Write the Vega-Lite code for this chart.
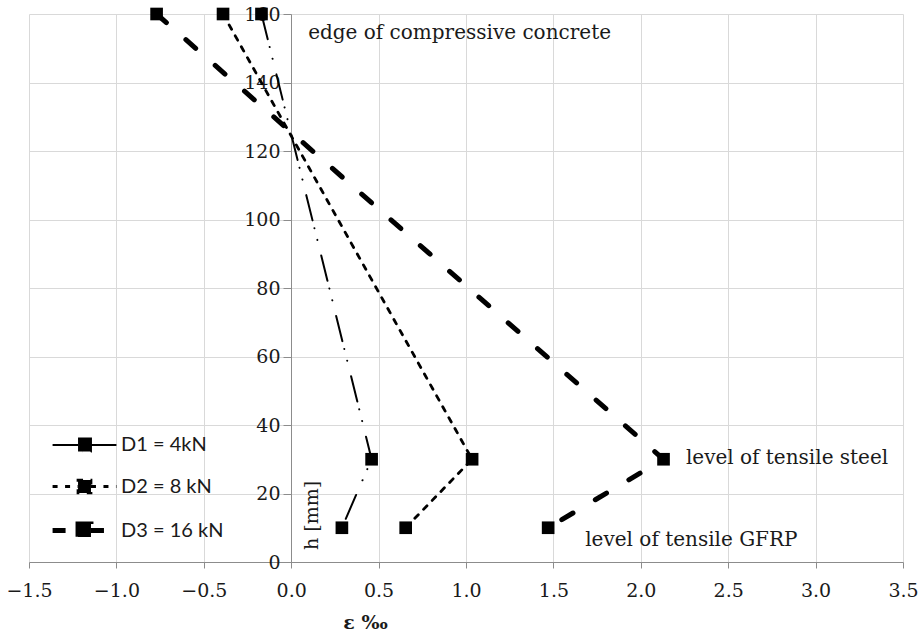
{
  "$schema": "https://vega.github.io/schema/vega-lite/v6.json",
  "width": 874,
  "height": 548,
  "autosize": {"type": "none"},
  "padding": {"left": 29, "top": 14, "right": 20, "bottom": 74},
  "background": "white",
  "config": {
    "view": {"stroke": null},
    "axis": {
      "gridColor": "#d9d9d9",
      "gridWidth": 1,
      "domainColor": "#8c8c8c",
      "tickColor": "#8c8c8c",
      "labelFont": "DejaVu Serif",
      "labelFontSize": 19,
      "labelColor": "#1a1a1a",
      "titleFont": "DejaVu Serif",
      "titleFontSize": 19,
      "titleColor": "#1a1a1a",
      "titleFontWeight": "normal"
    },
    "legend": {
      "title": null,
      "orient": "none",
      "legendX": 34,
      "legendY": 411,
      "padding": 0,
      "rowPadding": 10,
      "symbolType": "M-1.68,0H-0.34M0.34,0H1.68M-0.34,-0.34H0.34V0.34H-0.34Z",
      "symbolSize": 1444,
      "symbolFillColor": "#000",
      "symbolStrokeColor": "#000",
      "labelFont": "Lato",
      "labelFontSize": 20,
      "labelColor": "#1a1a1a",
      "labelOffset": 15
    }
  },
  "datasets": {
    "strain": [
      {"series": "D1 = 4kN", "eps": -0.17, "h": 160},
      {"series": "D1 = 4kN", "eps": 0.46, "h": 30},
      {"series": "D1 = 4kN", "eps": 0.29, "h": 10},
      {"series": "D2 = 8 kN", "eps": -0.39, "h": 160},
      {"series": "D2 = 8 kN", "eps": 1.035, "h": 30},
      {"series": "D2 = 8 kN", "eps": 0.655, "h": 10},
      {"series": "D3 = 16 kN", "eps": -0.77, "h": 160},
      {"series": "D3 = 16 kN", "eps": 2.13, "h": 30},
      {"series": "D3 = 16 kN", "eps": 1.47, "h": 10}
    ],
    "notes": [
      {"label": "edge of compressive concrete", "eps": 0.097, "h": 154.5},
      {"label": "level of tensile steel", "eps": 2.258, "h": 30.4},
      {"label": "level of tensile GFRP", "eps": 1.682, "h": 6.4}
    ]
  },
  "layer": [
    {
      "data": {"name": "strain"},
      "mark": {"type": "line", "color": "#000", "strokeCap": "round"},
      "encoding": {
        "x": {
          "field": "eps", "type": "quantitative",
          "scale": {"domain": [-1.5, 3.5], "nice": false, "zero": false},
          "axis": {
            "values": [-1.5, -1.0, -0.5, 0, 0.5, 1.0, 1.5, 2.0, 2.5, 3.0, 3.5],
            "format": ".1f",
            "labelFlush": false,
            "tickSize": 6,
            "labelPadding": 13,
            "title": "ε ‰",
            "titleFontWeight": "bold",
            "titleX": 336,
            "titleY": 60,
            "titleBaseline": "middle",
            "titleAnchor": null
          }
        },
        "y": {
          "field": "h", "type": "quantitative",
          "scale": {"domain": [0, 160], "nice": false},
          "axis": {
            "values": [0, 20, 40, 60, 80, 100, 120, 140, 160],
            "offset": -262,
            "tickSize": 8,
            "labelPadding": 3,
            "title": "h [mm]",
            "titleX": 20,
            "titleY": 501,
            "titleAngle": -90,
            "titleAlign": "center",
            "titleBaseline": "middle"
          }
        },
        "order": {"field": "h", "sort": "descending"},
        "strokeDash": {
          "field": "series", "type": "nominal",
          "scale": {
            "domain": ["D1 = 4kN", "D2 = 8 kN", "D3 = 16 kN"],
            "range": [[26, 8, 0.1, 12, 0.1, 16], [5, 7.5], [13, 26]]
          }
        },
        "strokeWidth": {
          "field": "series", "type": "ordinal",
          "scale": {
            "type": "ordinal",
            "domain": ["D1 = 4kN", "D2 = 8 kN", "D3 = 16 kN"],
            "range": [2, 2.8, 5]
          }
        }
      }
    },
    {
      "data": {"name": "strain"},
      "mark": {"type": "point", "shape": "square", "filled": true, "color": "#000", "size": 160, "opacity": 1},
      "encoding": {
        "x": {"field": "eps", "type": "quantitative"},
        "y": {"field": "h", "type": "quantitative"}
      }
    },
    {
      "data": {"name": "notes"},
      "mark": {"type": "text", "align": "left", "baseline": "middle", "font": "DejaVu Serif", "fontSize": 20, "color": "#1a1a1a"},
      "encoding": {
        "x": {"field": "eps", "type": "quantitative"},
        "y": {"field": "h", "type": "quantitative"},
        "text": {"field": "label"}
      }
    }
  ]
}
